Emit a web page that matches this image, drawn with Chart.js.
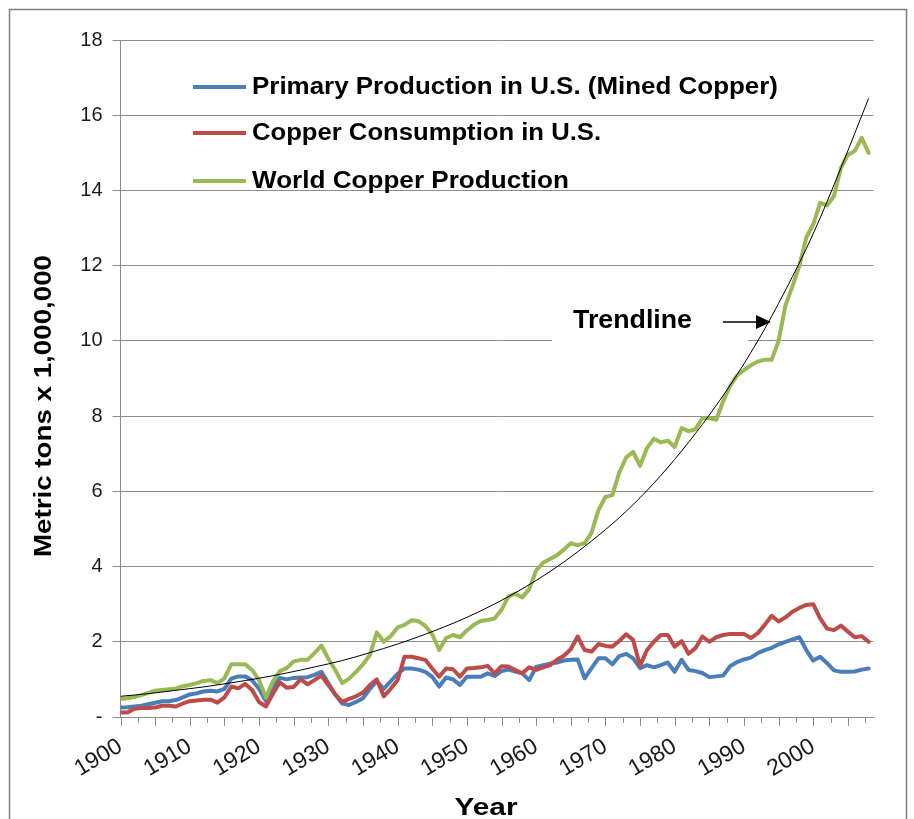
<!DOCTYPE html>
<html>
<head>
<meta charset="utf-8">
<script src="https://cdn.jsdelivr.net/npm/chart.js@4.4.0/dist/chart.umd.min.js"></script>
<style>
  html, body { margin: 0; padding: 0; background: #fff; }
  canvas { display: block; }
</style>
</head>
<body>
<canvas id="copper" width="914" height="819"></canvas>
<script>
// Copper: US mine output, US consumption, world output (Mt), 1900-2008

const firstYear = 1900;

const primaryUS = [
  0.25, 0.26, 0.28, 0.30, 0.34, 0.38, 0.42, 0.42, 0.45, 0.52,
  0.60, 0.63, 0.68, 0.70, 0.68, 0.75, 1.02, 1.08, 1.08, 0.98,
  0.75, 0.42, 0.80, 1.04, 1.00, 1.04, 1.05, 1.06, 1.12, 1.20,
  0.90, 0.60, 0.36, 0.32, 0.40, 0.50, 0.75, 0.95, 0.75, 0.95,
  1.15, 1.29, 1.29, 1.26, 1.20, 1.07, 0.81, 1.05, 1.00, 0.85,
  1.07, 1.07, 1.07, 1.16, 1.09, 1.22, 1.26, 1.21, 1.16, 0.98,
  1.33, 1.38, 1.42, 1.45, 1.50, 1.52, 1.53, 1.03, 1.30, 1.56,
  1.56, 1.40, 1.62, 1.68, 1.56, 1.30, 1.38, 1.32, 1.38, 1.45,
  1.20, 1.52, 1.25, 1.22, 1.17, 1.06, 1.08, 1.10, 1.35, 1.46,
  1.53, 1.58, 1.70, 1.78, 1.84, 1.93, 2.00, 2.06, 2.12, 1.78,
  1.50, 1.60, 1.43, 1.24, 1.20, 1.20, 1.21, 1.26, 1.29
];

const consumptionUS = [
  0.12, 0.12, 0.22, 0.24, 0.24, 0.25, 0.30, 0.30, 0.28, 0.36,
  0.42, 0.44, 0.46, 0.46, 0.38, 0.52, 0.81, 0.76, 0.88, 0.72,
  0.40, 0.28, 0.62, 0.92, 0.78, 0.80, 1.00, 0.87, 0.98, 1.10,
  0.85, 0.60, 0.40, 0.48, 0.55, 0.65, 0.85, 1.00, 0.55, 0.75,
  0.98, 1.60, 1.60, 1.56, 1.52, 1.29, 1.07, 1.29, 1.27, 1.07,
  1.29, 1.30, 1.32, 1.36, 1.16, 1.35, 1.34, 1.25, 1.16, 1.32,
  1.25, 1.32, 1.38, 1.52, 1.63, 1.80, 2.14, 1.78, 1.74, 1.94,
  1.89, 1.87, 2.02, 2.20, 2.05, 1.36, 1.78, 2.00, 2.18, 2.18,
  1.87, 2.02, 1.68, 1.83, 2.14, 2.00, 2.12, 2.18, 2.21, 2.21,
  2.21, 2.10, 2.23, 2.45, 2.69, 2.54, 2.65, 2.80, 2.90, 2.98,
  3.00, 2.62, 2.35, 2.31, 2.43, 2.27, 2.12, 2.15, 2.00
];

const worldProduction = [
  0.48, 0.50, 0.53, 0.58, 0.64, 0.70, 0.72, 0.74, 0.76, 0.82,
  0.85, 0.90, 0.96, 0.98, 0.90, 1.03, 1.40, 1.40, 1.40, 1.25,
  0.98, 0.52, 0.95, 1.22, 1.30, 1.48, 1.52, 1.52, 1.70, 1.90,
  1.55, 1.25, 0.90, 1.02, 1.20, 1.40, 1.65, 2.25, 2.00, 2.15,
  2.38, 2.45, 2.57, 2.55, 2.42, 2.20, 1.78, 2.10, 2.18, 2.12,
  2.30, 2.45, 2.55, 2.58, 2.62, 2.85, 3.20, 3.28, 3.18, 3.40,
  3.90, 4.10, 4.20, 4.30, 4.45, 4.62, 4.57, 4.62, 4.90, 5.50,
  5.85, 5.90, 6.50, 6.90, 7.05, 6.68, 7.15, 7.40, 7.30, 7.35,
  7.18, 7.68, 7.60, 7.65, 7.95, 7.95, 7.90, 8.40, 8.80, 9.08,
  9.22, 9.35, 9.45, 9.50, 9.50, 10.00, 10.95, 11.45, 12.00, 12.75,
  13.10, 13.67, 13.60, 13.85, 14.60, 14.95, 15.05, 15.40, 15.00
];

// exponential trendline, every 4 years
const trendYears = [1900, 1904, 1908, 1912, 1916, 1920, 1924, 1928, 1932, 1936,
                    1940, 1944, 1948, 1952, 1956, 1960, 1964, 1968, 1972, 1976,
                    1980, 1984, 1988, 1992, 1996, 2000, 2004, 2008];
const trendValues = [0.55, 0.62, 0.71, 0.80, 0.91, 1.03, 1.17, 1.33, 1.50, 1.71,
                     1.94, 2.20, 2.49, 2.82, 3.20, 3.63, 4.12, 4.68, 5.30, 6.02,
                     6.85, 7.78, 8.82, 10.00, 11.35, 12.85, 14.60, 16.45];

const xTickLabels = ['1900', '1910', '1920', '1930', '1940', '1950', '1960', '1970', '1980', '1990', '2000'];
const seriesNames = ['Primary Production in U.S. (Mined Copper)', 'Copper Consumption in U.S.', 'World Copper Production'];

const BLUE = '#4a7ebb', RED = '#be4b48', GREEN = '#98b954', GRID = '#8c8c8c';
const FONT = '"Liberation Sans", Arial, sans-serif';

const pts = arr => arr.map((v, i) => ({ x: firstYear + i, y: v }));

// draw text squeezed/stretched to a given width
function textAt(ctx, str, x, y, font, width, align) {
    ctx.save();
    ctx.font = font;
    const sx = width ? width / ctx.measureText(str).width : 1;
    ctx.translate(x, y);
    ctx.scale(sx, 1);
    ctx.textAlign = align || 'left';
    ctx.fillText(str, 0, 0);
    ctx.restore();
}

const decor = {
    id: 'decor',
    beforeDraw(chart) {
        const ctx = chart.ctx;
        ctx.save();
        ctx.fillStyle = '#fff';
        ctx.fillRect(0, 0, chart.width, chart.height);
        ctx.strokeStyle = '#7f7f7f';
        ctx.lineWidth = 1.5;
        ctx.strokeRect(9.5, 9.5, 897, 840);
        ctx.restore();
    },
    beforeDatasetsDraw(chart) {
        // the text box of the trendline label hides the gridline
        const ctx = chart.ctx;
        ctx.save();
        ctx.fillStyle = '#fff';
        ctx.fillRect(552, 300, 196, 46);
        ctx.restore();
    },
    afterDraw(chart) {
        const ctx = chart.ctx;
        const xs = chart.scales.x;
        ctx.save();

        // x tick marks, longer every 5 years
        ctx.strokeStyle = GRID;
        ctx.lineWidth = 1;
        xs.ticks.forEach(t => {
            const px = Math.round(xs.getPixelForValue(t.value)) + 0.5;
            const len = t.value % 5 === 0 ? 9 : 6;
            ctx.beginPath();
            ctx.moveTo(px, xs.top);
            ctx.lineTo(px, xs.top + len);
            ctx.stroke();
        });

        // legend
        const legend = [
            { color: BLUE, y: 87, w: 526 },
            { color: RED, y: 133, w: 349 },
            { color: GREEN, y: 181, w: 317 }
        ];
        ctx.fillStyle = '#000';
        ctx.textBaseline = 'middle';
        legend.forEach((e, i) => {
            ctx.strokeStyle = e.color;
            ctx.lineWidth = 4;
            ctx.beginPath();
            ctx.moveTo(193, e.y);
            ctx.lineTo(246, e.y);
            ctx.stroke();
            textAt(ctx, seriesNames[i], 252, e.y + 1, 'bold 23px ' + FONT, e.w);
        });

        // trendline label + arrow
        ctx.textBaseline = 'alphabetic';
        textAt(ctx, 'Trendline', 573, 328, 'bold 25px ' + FONT, 119);
        ctx.strokeStyle = '#000';
        ctx.lineWidth = 1.5;
        ctx.beginPath();
        ctx.moveTo(723, 322);
        ctx.lineTo(760, 322);
        ctx.stroke();
        ctx.beginPath();
        ctx.moveTo(771, 322);
        ctx.lineTo(756, 315);
        ctx.lineTo(756, 329);
        ctx.closePath();
        ctx.fill();

        // axis titles
        textAt(ctx, 'Year', 486, 815, 'bold 24px ' + FONT, 63, 'center');
        ctx.save();
        ctx.translate(44, 406);
        ctx.rotate(-Math.PI / 2);
        ctx.textBaseline = 'middle';
        textAt(ctx, 'Metric tons x 1,000,000', 0, 0, 'bold 24px ' + FONT, 302, 'center');
        ctx.restore();

        ctx.restore();
    }
};

const line = (label, data, color, order) => ({
    label, data: pts(data), borderColor: color, backgroundColor: color,
    borderWidth: 4, pointRadius: 0, tension: 0, order,
    borderJoinStyle: 'round', borderCapStyle: 'round'
});

new Chart(document.getElementById('copper'), {
    type: 'line',
    data: {
        datasets: [
            {
                label: 'Trendline',
                data: trendYears.map((yr, i) => ({ x: yr, y: trendValues[i] })),
                borderColor: '#000', borderWidth: 1, pointRadius: 0,
                cubicInterpolationMode: 'monotone', order: 0
            },
            line(seriesNames[2], worldProduction, GREEN, 1),
            line(seriesNames[1], consumptionUS, RED, 2),
            line(seriesNames[0], primaryUS, BLUE, 3)
        ]
    },
    options: {
        responsive: false,
        animation: false,
        devicePixelRatio: 1,
        layout: { padding: { top: 40, right: 40.5, left: 0, bottom: 0 } },
        plugins: { legend: { display: false }, tooltip: { enabled: false } },
        scales: {
            x: {
                type: 'linear',
                min: 1900, max: 2008.7,
                afterFit(s) { s.height = 102; },
                grid: { drawOnChartArea: false, drawTicks: false },
                border: { color: GRID, width: 1 },
                ticks: {
                    stepSize: 2.5, maxTicksLimit: 100, includeBounds: false,
                    autoSkip: false, minRotation: 31, maxRotation: 31, padding: 16,
                    color: '#1a1a1a', font: { family: FONT, size: 23 },
                    callback: v => xTickLabels.includes(String(v)) ? String(v) : ''
                }
            },
            y: {
                min: 0, max: 18,
                afterFit(s) { s.width = 120.5; },
                grid: { color: GRID, lineWidth: 1, tickLength: 8 },
                border: { color: GRID, width: 1 },
                ticks: {
                    stepSize: 2, padding: 10,
                    color: '#1a1a1a', font: { family: FONT, size: 20 },
                    callback: v => v === 0 ? '-' : v
                }
            }
        }
    },
    plugins: [decor]
});
</script>
</body>
</html>
